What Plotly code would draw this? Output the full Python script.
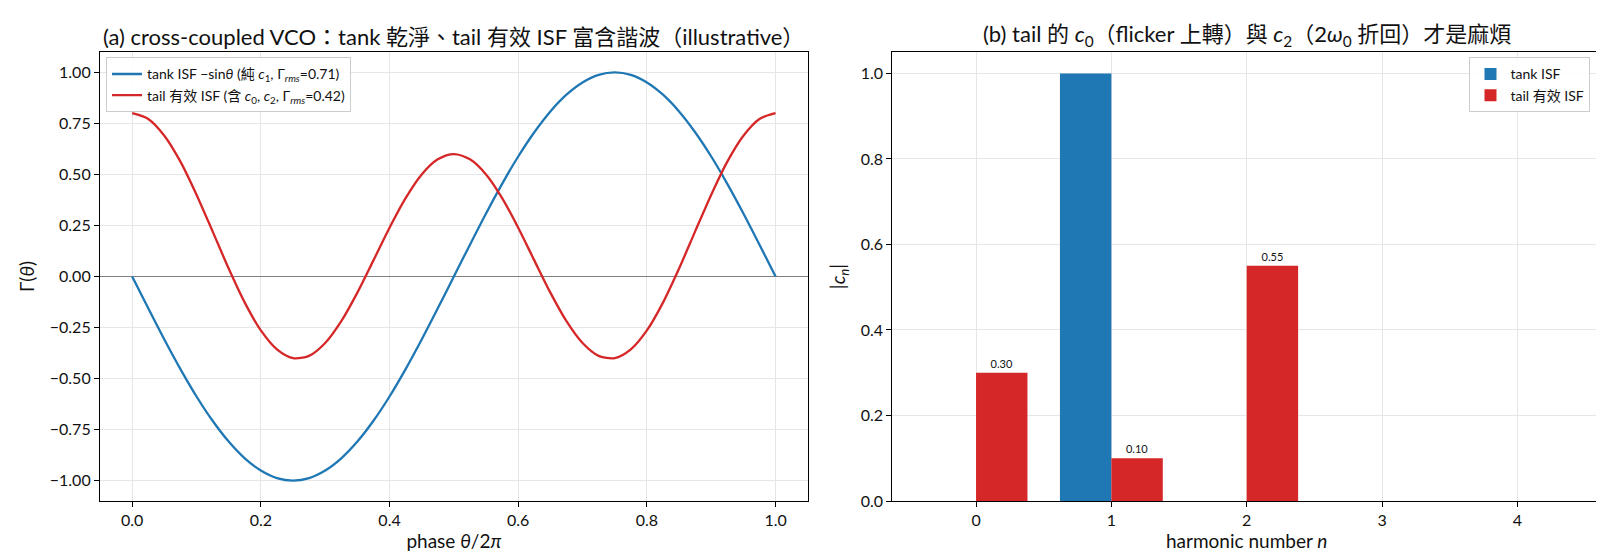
import plotly.graph_objects as go
from plotly.subplots import make_subplots

# ---- data ----
# phase theta/2pi, sampled every 0.025
phase = [0.000, 0.025, 0.050, 0.075, 0.100, 0.125, 0.150, 0.175, 0.200, 0.225,
         0.250, 0.275, 0.300, 0.325, 0.350, 0.375, 0.400, 0.425, 0.450, 0.475,
         0.500, 0.525, 0.550, 0.575, 0.600, 0.625, 0.650, 0.675, 0.700, 0.725,
         0.750, 0.775, 0.800, 0.825, 0.850, 0.875, 0.900, 0.925, 0.950, 0.975,
         1.000]

tank_isf = [0.000, -0.156, -0.309, -0.454, -0.588, -0.707, -0.809, -0.891, -0.951, -0.988,
            -1.000, -0.988, -0.951, -0.891, -0.809, -0.707, -0.588, -0.454, -0.309, -0.156,
            0.000, 0.156, 0.309, 0.454, 0.588, 0.707, 0.809, 0.891, 0.951, 0.988,
            1.000, 0.988, 0.951, 0.891, 0.809, 0.707, 0.588, 0.454, 0.309, 0.156,
            0.000]

tail_isf = [0.800, 0.772, 0.690, 0.563, 0.401, 0.221, 0.039, -0.128, -0.264, -0.357,
            -0.400, -0.389, -0.326, -0.219, -0.079, 0.079, 0.239, 0.384, 0.500, 0.574,
            0.600, 0.574, 0.500, 0.384, 0.239, 0.079, -0.079, -0.219, -0.326, -0.389,
            -0.400, -0.357, -0.264, -0.128, 0.039, 0.221, 0.401, 0.563, 0.690, 0.772,
            0.800]

harmonics = [0, 1, 2, 3, 4]
tank_cn = [0.0, 1.0, 0.0, 0.0, 0.0]
tail_cn = [0.30, 0.10, 0.55, 0.0, 0.0]

BLUE = "#1f77b4"
RED = "#d62728"
FONT = "Lato, 'Noto Sans CJK TC', 'Noto Sans', sans-serif"

fig = make_subplots(
    rows=1, cols=2,
    horizontal_spacing=0.0564,
    column_widths=[0.4997, 0.5003],
    subplot_titles=(
        "(a) cross-coupled VCO：tank 乾淨、tail 有效 ISF 富含諧波（illustrative）",
        "(b) tail 的 <i>c</i><sub>0</sub>（flicker 上轉）與 <i>c</i><sub>2</sub>（2<i>ω</i><sub>0</sub> 折回）才是麻煩",
    ),
)

# (a) ISF waveforms
fig.add_trace(go.Scatter(
    x=phase, y=tank_isf, mode="lines",
    line=dict(color=BLUE, width=2.3, shape="spline", smoothing=0.8),
    name="tank ISF −sin<i>θ</i> (純 <i>c</i><sub>1</sub>, Γ<sub><i>rms</i></sub>=0.71)",
    legend="legend",
), row=1, col=1)
fig.add_trace(go.Scatter(
    x=phase, y=tail_isf, mode="lines",
    line=dict(color=RED, width=2.3, shape="spline", smoothing=0.8),
    name="tail 有效 ISF (含 <i>c</i><sub>0</sub>, <i>c</i><sub>2</sub>, Γ<sub><i>rms</i></sub>=0.42)",
    legend="legend",
), row=1, col=1)

# (b) harmonic magnitudes
fig.add_trace(go.Bar(
    x=harmonics, y=tank_cn, name="tank ISF", marker=dict(color=BLUE, line=dict(width=0)),
    legend="legend2",
), row=1, col=2)
fig.add_trace(go.Bar(
    x=harmonics, y=tail_cn, name="tail 有效 ISF", marker=dict(color=RED, line=dict(width=0)),
    text=[f"{v:.2f}" if v > 0 else "" for v in tail_cn],
    textposition="outside", textfont=dict(size=11, color="#111"), cliponaxis=False,
    legend="legend2",
), row=1, col=2)

axis_common = dict(
    showline=True, linecolor="black", linewidth=1.2, mirror=True,
    ticks="outside", ticklen=5, tickcolor="black",
    showgrid=True, gridcolor="#e6e6e6", gridwidth=1,
    tickfont=dict(size=16, color="#111"),
    title_font=dict(size=19, color="#111"),
)

fig.update_xaxes(axis_common, row=1, col=1, range=[-0.05, 1.05], dtick=0.2, tickformat=".1f",
                 title_text="phase <i>θ</i>/2<i>π</i>", title_standoff=6, zeroline=False)
fig.update_yaxes(axis_common, row=1, col=1, range=[-1.1, 1.1], dtick=0.25, tickformat=".2f",
                 title_text="Γ(<i>θ</i>)", title_standoff=10,
                 zeroline=True, zerolinecolor="#808080", zerolinewidth=1)
fig.update_xaxes(axis_common, row=1, col=2, range=[-0.618, 4.618], tickvals=harmonics,
                 title_text="harmonic number <i>n</i>", title_standoff=6, zeroline=False)
fig.update_yaxes(axis_common, row=1, col=2, range=[0, 1.05], dtick=0.2, tickformat=".1f",
                 title_text="|<i>c<sub>n</sub></i>|", title_standoff=10, zeroline=False)

fig.update_annotations(font=dict(size=22, color="#111", family=FONT))

fig.update_layout(
    width=1604, height=560,
    margin=dict(l=92, r=11, t=44, b=67),
    paper_bgcolor="white", plot_bgcolor="white",
    font=dict(family=FONT, color="#111"),
    barmode="group", bargap=0.24, bargroupgap=0,
    legend=dict(x=0.004, y=0.988, xanchor="left", yanchor="top",
                bgcolor="rgba(255,255,255,0.85)", bordercolor="#cccccc", borderwidth=1,
                font=dict(size=14), tracegroupgap=2, itemwidth=30),
    legend2=dict(x=0.993, y=0.988, xanchor="right", yanchor="top",
                 bgcolor="rgba(255,255,255,0.85)", bordercolor="#cccccc", borderwidth=1,
                 font=dict(size=14), itemwidth=30),
)

fig.write_html("out.html")
